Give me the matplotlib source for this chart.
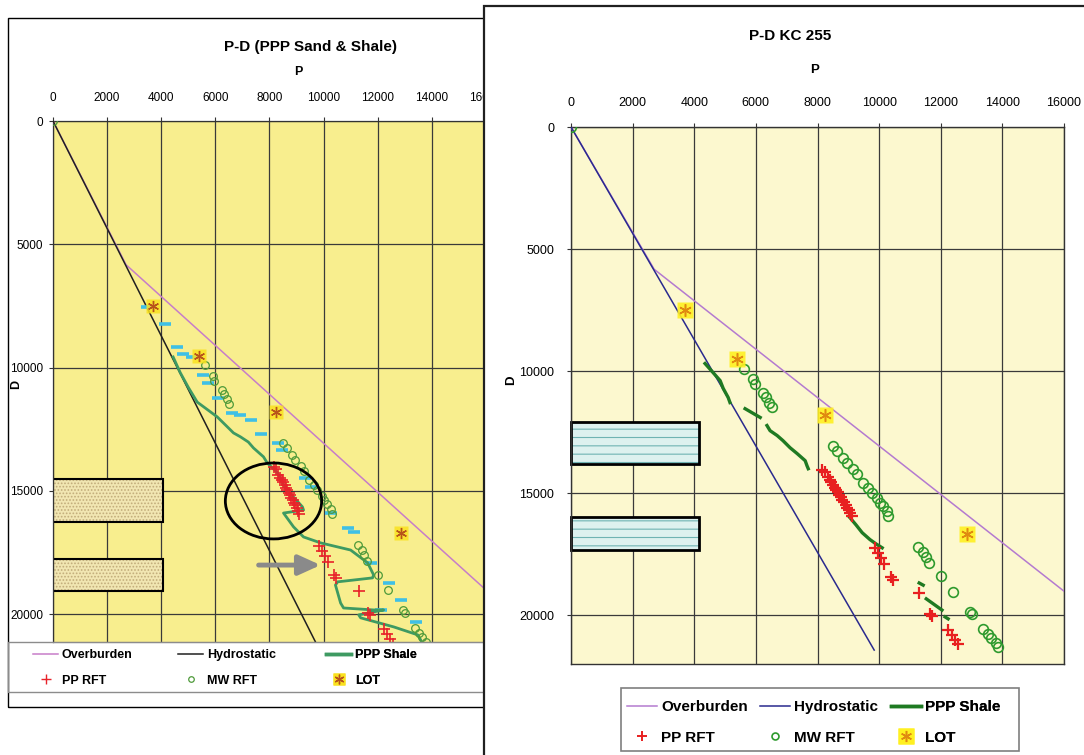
import matplotlib
matplotlib.use('Agg')
import numpy as np
import matplotlib.pyplot as plt
from matplotlib.patches import Rectangle, Ellipse
from matplotlib.lines import Line2D

plt.rcParams['font.family'] = ['Liberation Sans', 'DejaVu Sans']
plt.rcParams['hatch.linewidth'] = 0.8

nan = np.nan

# ---------------- data ----------------
p_ticks = [0, 2000, 4000, 6000, 8000, 10000, 12000, 14000, 16000, 18000]
d_ticks = [0, 5000, 10000, 15000, 20000]

ob_P = [0, 2700, 18000]
ob_D = [0, 5830, 21000]

hy_P = [0, 9840]
hy_D = [0, 21430]

lot_P = [3700, 5400, 8250, 12850]
lot_D = [7500, 9520, 11800, 16690]

mw_P = [0, 5600, 5900, 5960, 6230, 6330, 6420, 6520,
        8500, 8640, 8830, 8960, 9160, 9290, 9480, 9640, 9770, 9930, 10030, 10130, 10260, 10300,
        11260, 11420, 11510, 11610, 12000, 12400, 12940, 13020, 13370, 13520, 13640, 13780, 13860]
mw_D = [0, 9900, 10340, 10530, 10900, 11080, 11290, 11470,
        13050, 13260, 13550, 13750, 14000, 14200, 14570, 14780, 14980, 15190, 15390, 15520, 15720, 15930,
        17200, 17400, 17600, 17860, 18400, 19030, 19850, 19950, 20570, 20770, 20930, 21150, 21300]

pp_P = [8150, 8250, 8330, 8400, 8450, 8500, 8560, 8610, 8660, 8710, 8760, 8810, 8860, 8910, 8960, 9010, 9060, 9110,
        9850, 9950, 10050, 10150, 10400, 10450, 11300, 11650, 11720, 12250, 12350, 12450, 12550]
pp_D = [14050, 14130, 14350, 14470, 14560, 14660, 14780, 14870, 14970, 15070, 15170, 15270, 15380, 15480, 15590, 15700, 15820, 15950,
        17250, 17450, 17650, 17900, 18420, 18550, 19080, 19950, 20050, 20600, 20800, 21000, 21200]

shaleL_P = [4440, 4700, 5000, 5330, 5700, 6070, 6440, 6670, 6930, 7220, 7410, 7780, 7920, 8300, 8520, 8890, 9220, 9260,
            8520, 8890, 9260, 9890, 11000, 11630, 11850, 11810, 10520, 10440, 10630, 10740, 11850, 12220,
            11300, 11370, 12600, 13480, 13590, 13700]
shaleL_D = [9570, 10200, 10800, 11400, 11700, 12000, 12400, 12650, 12810, 13020, 13260, 13620, 13870, 14270, 14760, 15250, 15650, 15780,
            15900, 16460, 16870, 17110, 17400, 17920, 18410, 18530, 18690, 18820, 19550, 19750, 19830, 19830,
            20030, 20150, 20520, 20840, 21050, 21300]

shaleR_P = [4350, 4610, 4840, 4940, 5100, 5160, nan, 5650, 6140, nan,
            6360, 6460, 6690, 6880, 7110, 7340, 7600, 7660, 7700, nan,
            9030, 9250, 9450, 9700, 9900, 10100, nan, 11300, 11430, nan, 11530, 12040, nan, 12140, 12240]
shaleR_D = [9690, 10060, 10390, 10710, 11080, 11290, nan, 11540, 11900, nan,
            12230, 12440, 12640, 12850, 13140, 13380, 13670, 13880, 14000, nan,
            15970, 16300, 16620, 16900, 17080, 17240, nan, 18680, 18770, nan, 19330, 19790, nan, 20070, 20150]

sand_P = [3480, 4150, 4590, 4810, 5150, 5560, 5740, 6110, 6630, 6930, 7300, 7670, 8300, 8480,
          9330, 9520, 10260, 10890, 11110, 11740, 12410, 12850, 12110, 13410]
sand_D = [7540, 8230, 9160, 9450, 9570, 10300, 10620, 11230, 11840, 11920, 12120, 12690, 13060, 13340,
          14480, 14840, 15900, 16500, 16670, 17920, 18730, 19420, 19830, 20320]

sand_box_top = [14520, 17760]
sand_box_bot = [16260, 19060]
sand_box_P = 4050
shale_box_top = [12070, 15970]
shale_box_bot = [13790, 17320]
shale_box_P = 4160

circle_P, circle_D, circle_w, circle_h = 8150, 15410, 3560, 3080
arrow_P0, arrow_P1, arrow_D = 7600, 9890, 18010

# ---------------- layout helpers ----------------
W, H = 1084, 755
fig = plt.figure(figsize=(W / 100, H / 100), dpi=100)


def frect(x0, y0, x1, y1):
    return [x0 / W, 1 - y1 / H, (x1 - x0) / W, (y1 - y0) / H]


def fx(x):
    return x / W


def fy(y):
    return 1 - y / H


def fig_box(x0, y0, x1, y1, **kw):
    r = Rectangle((fx(x0), fy(y1)), (x1 - x0) / W, (y1 - y0) / H,
                  transform=fig.transFigure, **kw)
    fig.patches.append(r)
    return r


def add_legends(ax, groups, xs, yc, fs, hl, pad, spacing):
    for (handles, labels), x in zip(groups, xs):
        leg = ax.legend(handles, labels, loc='center left',
                        bbox_to_anchor=(fx(x), fy(yc)), bbox_transform=fig.transFigure,
                        frameon=False, prop={'weight': 'bold', 'size': fs},
                        handlelength=hl, handletextpad=pad, labelspacing=spacing,
                        borderpad=0, borderaxespad=0, numpoints=1)
        ax.add_artist(leg)

# ---------------- left panel ----------------
fig_box(8, 18, 1100, 707, fill=False, ec='black', lw=1.0, zorder=1)
fig_box(8, 642, 1100, 692, fill=False, ec='#8C8C8C', lw=1.0, zorder=1)

axL = fig.add_axes(frect(53, 121, 540, 642), zorder=0)
axL.set_facecolor('#F8EE8E')
axL.set_xlim(0, 18000)
axL.set_ylim(21130, 0)
axL.xaxis.tick_top()
axL.xaxis.set_label_position('top')
axL.set_xticks(p_ticks)
axL.set_yticks(d_ticks)
axL.set_xticklabels([str(v) for v in p_ticks])
axL.tick_params(axis='x', direction='out', length=3, pad=9, labelsize=8.5, color='#333333')
axL.tick_params(axis='y', direction='out', length=3, pad=4, labelsize=8.5, color='#333333')
axL.grid(True, color='#3A3A3A', lw=0.9)
axL.set_axisbelow(True)
for s in ['top', 'left']:
    axL.spines[s].set_color('#333333')
    axL.spines[s].set_linewidth(0.9)
axL.spines['bottom'].set_color('#8C8C8C')
axL.spines['right'].set_visible(False)
axL.set_xlabel('P', fontsize=9, fontweight='bold', labelpad=0)
axL.xaxis.set_label_coords(0.503, 1.088)
axL.set_ylabel('D', fontsize=9, fontweight='bold')
axL.yaxis.set_label_coords(-0.064, 0.495)

for t, b in zip(sand_box_top, sand_box_bot):
    axL.add_patch(Rectangle((0, t), sand_box_P, b - t, fc='#F1E6B2', ec='#C2AC7A',
                            hatch='.....', lw=0, zorder=2))
    axL.add_patch(Rectangle((0, t), sand_box_P, b - t, fill=False, ec='black', lw=1.5, zorder=2.1))

axL.plot(ob_P, ob_D, color='#C77DC9', lw=1.1, zorder=3)
axL.plot(hy_P, hy_D, color='#202020', lw=1.1, zorder=3.2)
axL.plot(shaleL_P, shaleL_D, color='#3E9A62', lw=2.0, zorder=3.5)
axL.plot(sand_P, sand_D, ls='none', marker='_', ms=8, mew=2.6, color='#3FC0E6', zorder=3.4)
axL.plot(mw_P, mw_D, ls='none', marker='o', ms=5.5, mfc='none', mec='#4E9A3A', mew=0.9, zorder=4)
axL.plot(pp_P, pp_D, ls='none', marker='+', ms=8, mew=1.2, color='#E8232A', zorder=4.2)
axL.plot(lot_P, lot_D, ls='none', marker='s', ms=10, mfc='#FAE21E', mec='none', alpha=0.85, zorder=4.4)
axL.plot(lot_P, lot_D, ls='none', marker=(6, 2, 0), ms=8, color='#B8541A', mew=1.0, zorder=4.5)
axL.add_patch(Ellipse((circle_P, circle_D), circle_w, circle_h, fill=False, ec='black', lw=2.0, zorder=5))
axL.annotate('', xy=(arrow_P1, arrow_D), xytext=(arrow_P0, arrow_D),
             arrowprops=dict(arrowstyle='-|>,head_length=1.1,head_width=0.5', lw=3.5,
                             color='#8A8A8A', shrinkA=0, shrinkB=0, mutation_scale=12), zorder=5)

hL_ob = Line2D([], [], color='#C77DC9', lw=1.1)
hL_hy = Line2D([], [], color='#202020', lw=1.1)
hL_sh = Line2D([], [], color='#3E9A62', lw=2.5)
hL_pp = Line2D([], [], ls='none', marker='+', ms=7, mew=1.0, color='#E8232A')
hL_mw = Line2D([], [], ls='none', marker='o', ms=4, mfc='none', mec='#4E9A3A', mew=0.9)
hL_lot = (Line2D([], [], ls='none', marker='s', ms=9, mfc='#FAE21E', mec='none'),
          Line2D([], [], ls='none', marker=(6, 2, 0), ms=7, color='#B8541A', mew=1.0))
add_legends(axL,
            [([hL_ob, hL_pp], ['Overburden', 'PP RFT']),
             ([hL_hy, hL_mw], ['Hydrostatic', 'MW RFT']),
             ([hL_sh, hL_lot], ['PPP Shale', 'LOT'])],
            [33, 178, 326], 668, 9, 2.0, 0.32, 1.05)

fig.text(fx(310), fy(47), 'P-D (PPP Sand & Shale)', ha='center', va='center',
         fontsize=11, fontweight='bold', zorder=2)

# ---------------- right panel ----------------
fig_box(484, 6, 1095, 765, fc='white', ec='#202020', lw=1.6, zorder=5)

axR = fig.add_axes(frect(571, 127, 1064, 664), zorder=6)
axR.set_facecolor('#FCF8CF')
axR.set_xlim(0, 16000)
axR.set_ylim(22000, 0)
axR.xaxis.tick_top()
axR.xaxis.set_label_position('top')
axR.set_xticks(p_ticks[:-1])
axR.set_yticks(d_ticks)
axR.tick_params(axis='x', direction='out', length=3, pad=10, labelsize=9, color='#333333')
axR.tick_params(axis='y', direction='out', length=3, pad=9, labelsize=9, color='#333333')
axR.grid(True, color='#3A3A3A', lw=0.9)
axR.set_axisbelow(True)
for s in axR.spines.values():
    s.set_color('#333333')
    s.set_linewidth(1.0)
axR.set_xlabel('P', fontsize=9.5, fontweight='bold')
axR.xaxis.set_label_coords(0.495, 1.10)
axR.set_ylabel('D', fontsize=9.5, fontweight='bold')
axR.yaxis.set_label_coords(-0.11, 0.529)

for t, b in zip(shale_box_top, shale_box_bot):
    axR.add_patch(Rectangle((0, t), shale_box_P, b - t, fc='#DDF1EF', ec='#6FB3B3',
                            hatch='--', lw=0, zorder=2))
    axR.add_patch(Rectangle((0, t), shale_box_P, b - t, fill=False, ec='black', lw=2.0,
                            zorder=2.1, clip_on=False))

axR.plot(ob_P, ob_D, color='#B47AD0', lw=1.1, zorder=3)
axR.plot(hy_P, hy_D, color='#2A2A8E', lw=1.1, zorder=3.2)
axR.plot(shaleR_P, shaleR_D, color='#1F7A22', lw=2.4, zorder=3.5)
axR.plot(mw_P, mw_D, ls='none', marker='o', ms=7, mfc='none', mec='#2E9A2E', mew=1.2, zorder=4)
axR.plot(pp_P, pp_D, ls='none', marker='+', ms=8, mew=1.6, color='#E82020', zorder=4.2)
axR.plot(lot_P, lot_D, ls='none', marker='s', ms=11, mfc='#FFF021', mec='none', alpha=0.9, zorder=4.4)
axR.plot(lot_P, lot_D, ls='none', marker=(6, 2, 0), ms=9, color='#E08A10', mew=1.1, zorder=4.5)

hR_ob = Line2D([], [], color='#B47AD0', lw=1.1)
hR_hy = Line2D([], [], color='#2A2A8E', lw=1.1)
hR_sh = Line2D([], [], color='#1F7A22', lw=2.5)
hR_pp = Line2D([], [], ls='none', marker='+', ms=7, mew=1.4, color='#E82020')
hR_mw = Line2D([], [], ls='none', marker='o', ms=5, mfc='none', mec='#2E9A2E', mew=1.2)
hR_lot = (Line2D([], [], ls='none', marker='s', ms=11, mfc='#FFF021', mec='none'),
          Line2D([], [], ls='none', marker=(6, 2, 0), ms=8, color='#E08A10', mew=1.1))
add_legends(axR,
            [([hR_ob, hR_pp], ['Overburden', 'PP RFT']),
             ([hR_hy, hR_mw], ['Hydrostatic', 'MW RFT']),
             ([hR_sh, hR_lot], ['PPP Shale', 'LOT'])],
            [627, 760, 891], 722.5, 11, 1.95, 0.3, 1.05)
fig_box(621, 688, 1019, 751, fill=False, ec='#7F7F7F', lw=1.2, zorder=7)

fig.text(fx(790), fy(36), 'P-D KC 255', ha='center', va='center',
         fontsize=11, fontweight='bold', zorder=10)

fig.savefig('out.png', dpi=100)
